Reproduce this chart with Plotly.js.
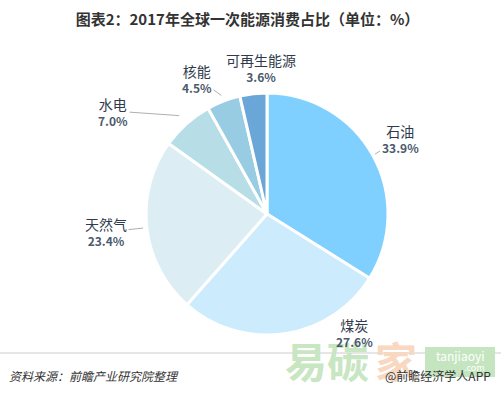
<!DOCTYPE html>
<html>
<head>
<meta charset="utf-8">
<script src="https://cdn.plot.ly/plotly-3.0.1.min.js"></script>
<style>html,body{margin:0;padding:0;background:#fff;}#chart{width:501px;height:394px;}</style>
</head>
<body>
<div id="chart"></div>
<script>
const categories = ["石油", "煤炭", "天然气", "水电", "核能", "可再生能源"];
const shares = [33.9, 27.6, 23.4, 7.0, 4.5, 3.6];
const sliceColors = ["#80D0FF", "#CCEBFC", "#DCEEF4", "#B7DDE6", "#98CCE3", "#6AA6D8"];

const FONT = '"Noto Sans CJK SC", "Noto Sans", sans-serif';
const W = 501, H = 394;

// Layout: pie geometry in pixels and label placement (pixel centres), leader-line radius factor (0 = no line)
const pieCx = 267, pieCy = 214, pieR = 121;
const labelPos = [[400, 138], [354, 332], [106, 232], [113, 111], [197, 78], [261, 68]];
const leaderR = [1.02, 0, 1.03, 1.09, 1.05, 0];

const trace = {
  type: "pie",
  labels: categories,
  values: shares,
  sort: false,
  direction: "clockwise",
  rotation: 0,
  marker: {colors: sliceColors, line: {color: "#ffffff", width: 3}},
  textinfo: "none",
  hoverinfo: "none",
  showlegend: false,
  domain: {x: [(pieCx - pieR) / W, (pieCx + pieR) / W], y: [1 - (pieCy + pieR) / H, 1 - (pieCy - pieR) / H]}
};

const total = shares.reduce((a, b) => a + b, 0);
const labelAnns = [];
let cum = 0;
shares.forEach((v, i) => {
  const mid = (cum + v / 2) / total * 2 * Math.PI;
  cum += v;
  const text = "<span style='font-size:14px;color:#2f3b4c'>" + categories[i] + "</span><br><b>" + v.toFixed(1) + "%</b>";
  const [lx, ly] = labelPos[i];
  const base = {text: text, xref: "paper", yref: "paper", font: {family: FONT, size: 12, color: "#4b5a6d"}, align: "center"};
  if (leaderR[i] > 0) {
    const px = pieCx + pieR * leaderR[i] * Math.sin(mid);
    const py = pieCy - pieR * leaderR[i] * Math.cos(mid);
    labelAnns.push(Object.assign(base, {x: px / W, y: 1 - py / H, showarrow: true, arrowhead: 0, arrowwidth: 0.8,
      arrowcolor: "#9a9a9a", ax: lx - px, ay: ly - py, standoff: 0, startstandoff: 0}));
  } else {
    labelAnns.push(Object.assign(base, {x: lx / W, y: 1 - ly / H, showarrow: false, xanchor: "center", yanchor: "middle"}));
  }
});

const watermark = [
  {text: "<b>易碳</b>", xref: "paper", yref: "paper", x: 283 / W, y: 1 - 359 / H, xanchor: "left", yanchor: "middle", showarrow: false,
   font: {family: FONT, size: 42, color: "#c8e6c2"}},
  {text: "<b>家</b>", xref: "paper", yref: "paper", x: 373 / W, y: 1 - 359 / H, xanchor: "left", yanchor: "middle", showarrow: false,
   font: {family: FONT, size: 42, color: "#f8d8c0"}},
  {text: "tanjiaoyi", xref: "paper", yref: "paper", x: 460 / W, y: 1 - 355 / H, xanchor: "center", yanchor: "middle", showarrow: false,
   font: {family: FONT, size: 12, color: "#ffffff"}},
  {text: ".com", xref: "paper", yref: "paper", x: 474 / W, y: 1 - 367 / H, xanchor: "center", yanchor: "middle", showarrow: false,
   font: {family: FONT, size: 9, color: "#ffffff"}}
];

const footer = [
  {text: "<i>资料来源：前瞻产业研究院整理</i>", xref: "paper", yref: "paper", x: 0.014, y: 1 - 375 / H, xanchor: "left", yanchor: "middle", showarrow: false,
   font: {family: FONT, size: 12, color: "#333333"}},
  {text: "@前瞻经济学人APP", xref: "paper", yref: "paper", x: 0.985, y: 1 - 375 / H, xanchor: "right", yanchor: "middle", showarrow: false,
   font: {family: FONT, size: 12, color: "#333333"}}
];

const layout = {
  width: W, height: H,
  margin: {l: 0, r: 0, t: 0, b: 0},
  paper_bgcolor: "#ffffff",
  font: {family: FONT},
  title: {text: "<b>图表2：2017年全球一次能源消费占比（单位：%）</b>", x: 0.494, xanchor: "center", y: 0.95, yanchor: "middle",
          font: {family: FONT, size: 15, color: "#333333"}},
  shapes: [
    {type: "line", xref: "paper", yref: "paper", x0: 0, x1: 1, y0: 1 - 353 / H, y1: 1 - 353 / H, line: {color: "#cccccc", width: 1}},
    {type: "rect", xref: "paper", yref: "paper", x0: 425 / W, x1: 495 / W, y0: 1 - 377 / H, y1: 1 - 347 / H,
     fillcolor: "#c5e5c0", line: {width: 0}, layer: "above"}
  ],
  annotations: watermark.concat(labelAnns, footer)
};

Plotly.newPlot("chart", [trace], layout, {displayModeBar: false, staticPlot: true});
</script>
</body>
</html>
